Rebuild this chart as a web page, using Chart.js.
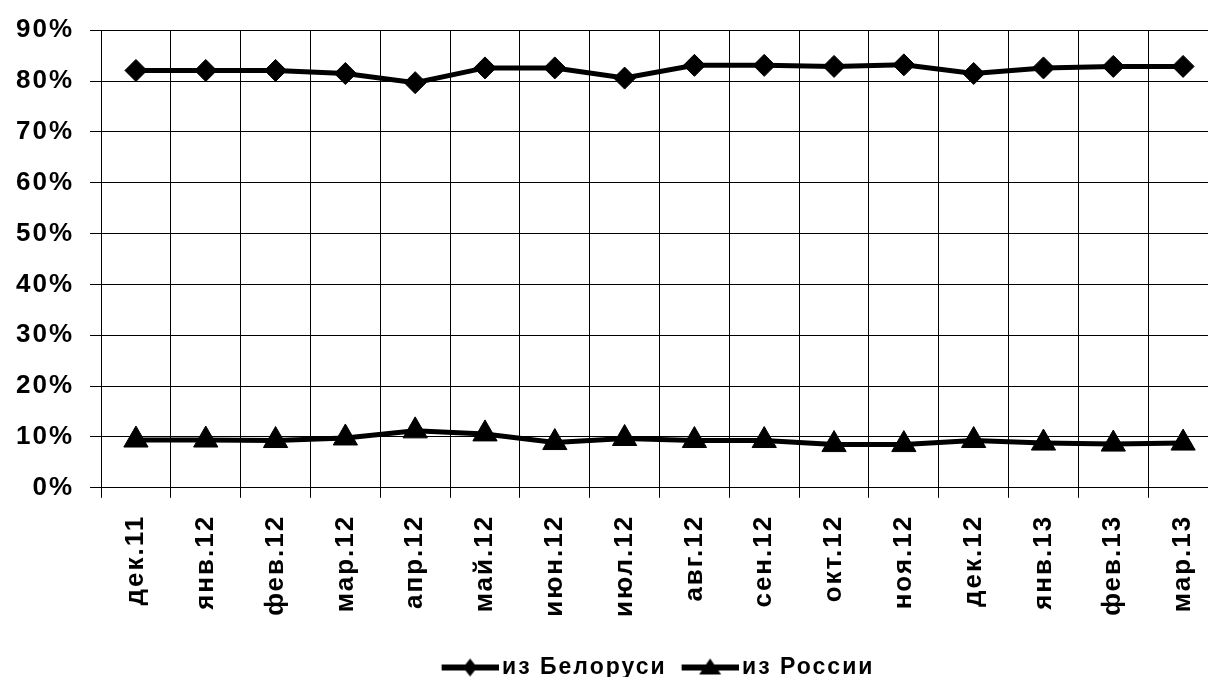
<!DOCTYPE html>
<html>
<head>
<meta charset="utf-8">
<script src="https://cdn.jsdelivr.net/npm/chart.js@4.4.1/dist/chart.umd.min.js"></script>
<style>
    html, body { margin: 0; padding: 0; background: #fff; overflow: hidden; }
    #wrap { width: 1240px; height: 677px; position: relative; }
</style>
</head>
<body>
<div id="wrap"><canvas id="shareChart"></canvas></div>
<script>
// Data
const months = ['дек.11', 'янв.12', 'фев.12', 'мар.12', 'апр.12', 'май.12', 'июн.12', 'июл.12',
                'авг.12', 'сен.12', 'окт.12', 'ноя.12', 'дек.12', 'янв.13', 'фев.13', 'мар.13'];
const fromBelarus = [82.1, 82.1, 82.1, 81.5, 79.7, 82.6, 82.6, 80.6, 83.1, 83.1, 82.9, 83.2, 81.5, 82.6, 82.9, 82.9];
const fromRussia = [9.4, 9.4, 9.3, 9.8, 11.2, 10.6, 8.9, 9.7, 9.3, 9.3, 8.5, 8.5, 9.3, 8.8, 8.6, 8.8];
const seriesNames = ['из Белоруси', 'из России'];
const yTicks = [0, 10, 20, 30, 40, 50, 60, 70, 80, 90];

const FONT = "'Liberation Sans', Arial, sans-serif";

// Legend icons: short thick line with the series marker in the middle
function makeIcon(style) {
    const c = document.createElement('canvas');
    c.width = 65;
    c.height = 22;
    const g = c.getContext('2d');
    g.fillStyle = '#000';
    g.fillRect(8, 8, 57, 6);
    g.beginPath();
    if (style === 'diamond') {
        g.moveTo(36.5, 2); g.lineTo(43.5, 11); g.lineTo(36.5, 20); g.lineTo(29.5, 11);
    } else {
        g.moveTo(36.5, 2); g.lineTo(47.5, 18); g.lineTo(25.5, 18);
    }
    g.closePath();
    g.fill();
    return c;
}
const icons = [makeIcon('diamond'), makeIcon('triangle')];

// Excel-like spaced lettering; legend moved to where it sits in the cropped original
const excelLook = {
    id: 'excelLook',
    beforeLayout(chart) { chart.ctx.letterSpacing = '2px'; },
    afterLayout(chart) {
        const lg = chart.legend;
        if (lg) {
            lg.left += 49;
            lg.right += 49;
            lg.top += 7;
            lg.bottom += 7;
        }
    },
    beforeDraw(chart) { chart.ctx.letterSpacing = '2px'; }
};

const ctx = document.getElementById('shareChart').getContext('2d');
const shareChart = new Chart(ctx, {
    type: 'line',
    data: {
        labels: months,
        datasets: [
            {
                label: seriesNames[0],
                data: fromBelarus,
                borderColor: '#000',
                backgroundColor: '#000',
                borderWidth: 5,
                pointStyle: 'rectRot',
                pointRadius: 11,
                pointBorderWidth: 1,
                tension: 0,
                fill: false
            },
            {
                label: seriesNames[1],
                data: fromRussia,
                borderColor: '#000',
                backgroundColor: '#000',
                borderWidth: 5,
                pointStyle: 'triangle',
                pointRadius: 14,
                pointBorderWidth: 1,
                tension: 0,
                fill: false
            }
        ]
    },
    options: {
        responsive: true,
        maintainAspectRatio: false,
        animation: false,
        layout: {
            padding: { left: 0, right: 22, top: 13, bottom: -5 }
        },
        plugins: {
            legend: {
                position: 'bottom',
                labels: {
                    usePointStyle: true,
                    pointStyleWidth: 49,
                    color: '#000',
                    padding: 15,
                    font: { family: FONT, size: 23, weight: 'bold' },
                    generateLabels: function(chart) {
                        const items = Chart.defaults.plugins.legend.labels.generateLabels(chart);
                        items.forEach((item, i) => { item.pointStyle = icons[i]; });
                        return items;
                    }
                }
            },
            tooltip: { enabled: false }
        },
        scales: {
            x: {
                offset: true,
                grid: {
                    offset: true,
                    color: '#000',
                    lineWidth: 1,
                    tickLength: 10
                },
                border: { color: '#000', width: 1 },
                ticks: {
                    color: '#000',
                    autoSkip: false,
                    maxRotation: 90,
                    minRotation: 90,
                    padding: 17,
                    font: { family: FONT, size: 26, weight: 'bold' }
                }
            },
            y: {
                min: yTicks[0],
                max: yTicks[yTicks.length - 1],
                afterBuildTicks: function(axis) {
                    axis.ticks = yTicks.map(v => ({ value: v }));
                },
                grid: {
                    color: '#000',
                    lineWidth: 1,
                    tickLength: 11
                },
                border: { color: '#000', width: 1 },
                ticks: {
                    color: '#000',
                    padding: 16,
                    font: { family: FONT, size: 26, weight: 'bold', lineHeight: 1.1 },
                    callback: function(value) {
                        return value + '%';
                    }
                }
            }
        }
    },
    plugins: [excelLook]
});
</script>
</body>
</html>
